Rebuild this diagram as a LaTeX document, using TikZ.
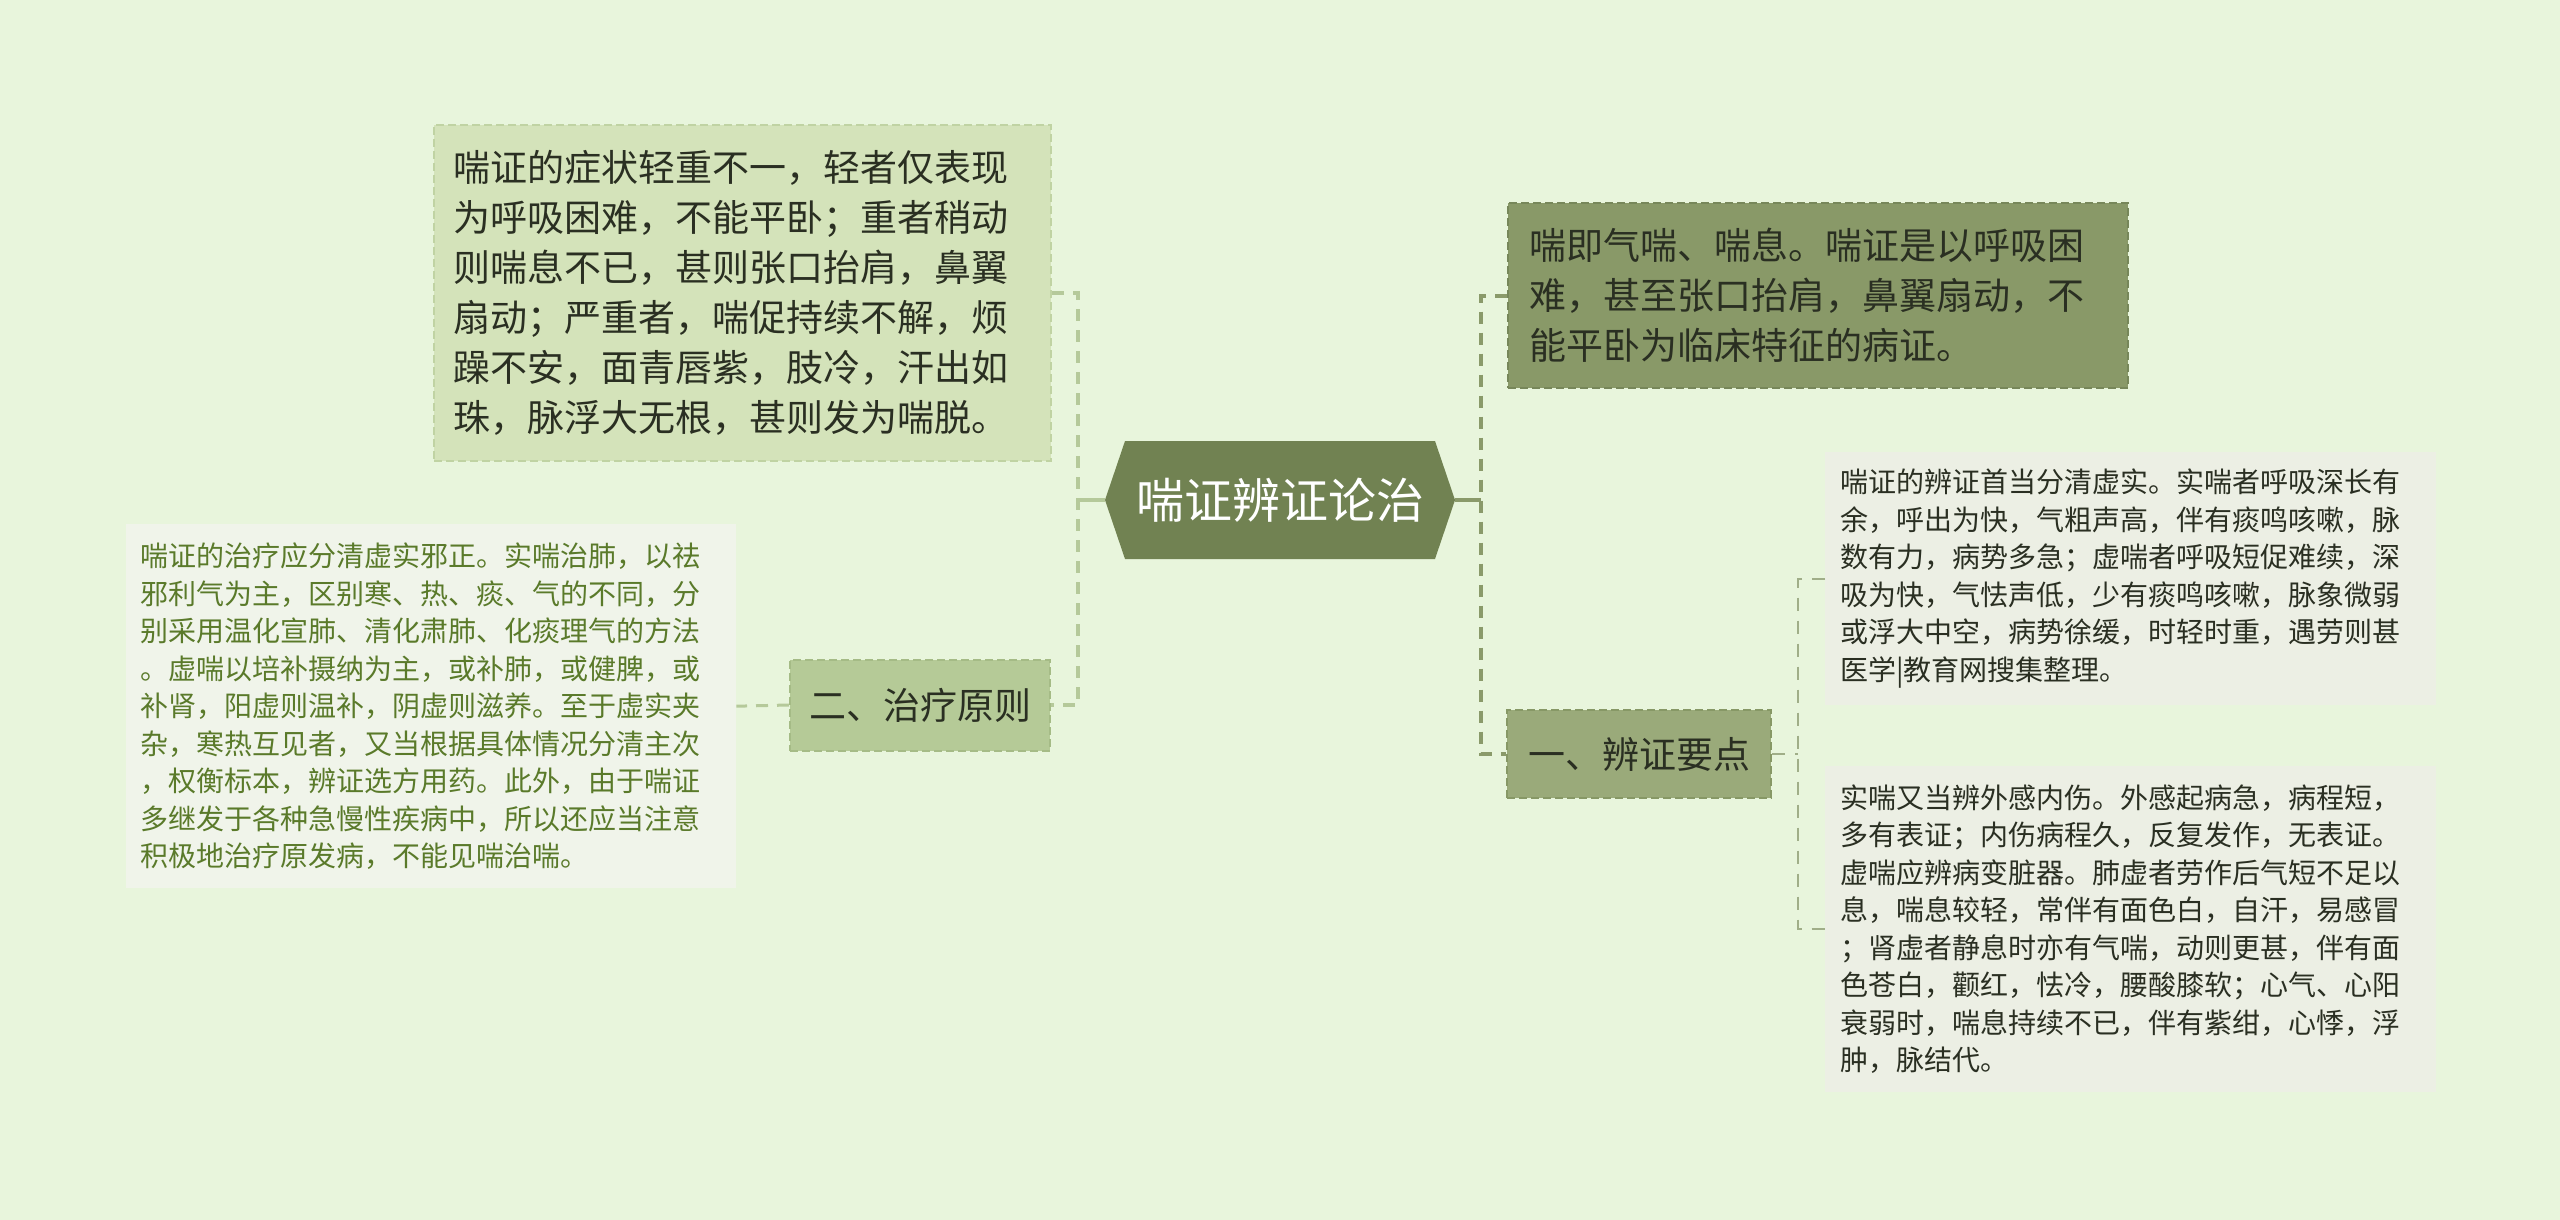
\documentclass[tikz,border=0pt]{standalone}
\usepackage{fontspec}
\newfontfamily\cjk{Noto Sans CJK SC}
\definecolor{bgc}{HTML}{E8F5DC}
\definecolor{rootfill}{HTML}{718252}
\definecolor{symfill}{HTML}{D4E3BA}
\definecolor{symline}{HTML}{C0D3A3}
\definecolor{treatfill}{HTML}{B5CA97}
\definecolor{treatline}{HTML}{A5BB86}
\definecolor{deffill}{HTML}{899968}
\definecolor{defline}{HTML}{77875A}
\definecolor{keyfill}{HTML}{9AAA7A}
\definecolor{keyline}{HTML}{879866}
\definecolor{detfill}{HTML}{ECEFE4}
\definecolor{ldetfill}{HTML}{F0F4EA}
\definecolor{ltext}{HTML}{5A7A2A}
\definecolor{dtext}{HTML}{2A2F22}
\definecolor{lconn}{HTML}{B5C99A}
\definecolor{rconn}{HTML}{8A9A6A}
\definecolor{kconn}{HTML}{A0AE88}
\begin{document}
\begin{tikzpicture}[x=1pt,y=-1pt,
  bigtxt/.style={font=\cjk\fontsize{37pt}{50pt}\selectfont},
  smalltxt/.style={font=\cjk\fontsize{28pt}{37.5pt}\selectfont},
  boxbase/.style={anchor=north west, inner ysep=0pt, align=left},
  dashborder/.style={line width=2pt, dash pattern=on 8pt off 4pt},
  rootbox/.style={minimum width=350pt, minimum height=118pt, inner sep=0pt,
    text=white, font=\cjk\fontsize{48pt}{48pt}\selectfont,
    path picture={\fill[rootfill] (path picture bounding box.west)
      -- ([xshift=20pt]path picture bounding box.north west)
      -- ([xshift=-20pt]path picture bounding box.north east)
      -- (path picture bounding box.east)
      -- ([xshift=-20pt]path picture bounding box.south east)
      -- ([xshift=20pt]path picture bounding box.south west) -- cycle;}},
  lsolid/.style={draw=lconn, line width=4pt},
  ldash/.style={draw=lconn, line width=4pt, dash pattern=on 12pt off 9pt},
  lthin/.style={draw=lconn, line width=3pt, dash pattern=on 12pt off 9pt},
  rsolid/.style={draw=rconn, line width=4pt},
  rdash/.style={draw=rconn, line width=4pt, dash pattern=on 12pt off 9pt},
  kdash/.style={draw=kconn, line width=2pt, dash pattern=on 13pt off 10pt}]

\fill[bgc] (0,0) rectangle (2560,1220);
\useasboundingbox (0,0) rectangle (2560,1220);

% root
\node[rootbox] (root) at (1280,500) {喘证辨证论治};

% left branch
\node[boxbase, bigtxt, fill=symfill, draw=symline, dashborder, text=dtext,
  minimum width=617pt, minimum height=336pt, inner xsep=19pt, text width=579pt]
  (sym) at (433,124) {喘证的症状轻重不一，轻者仅表现\\为呼吸困难，不能平卧；重者稍动\\则喘息不已，甚则张口抬肩，鼻翼\\扇动；严重者，喘促持续不解，烦\\躁不安，面青唇紫，肢冷，汗出如\\珠，脉浮大无根，甚则发为喘脱。};

\node[bigtxt, fill=treatfill, draw=treatline, dashborder, text=dtext,
  minimum width=260pt, minimum height=91pt, inner sep=0pt]
  (treat) at (920,705) {二、治疗原则};

\node[boxbase, smalltxt, fill=ldetfill, text=ltext,
  minimum width=610pt, minimum height=364pt, inner xsep=14pt, text width=582pt]
  (treatdet) at (126,524) {喘证的治疗应分清虚实邪正。实喘治肺，以祛\\邪利气为主，区别寒、热、痰、气的不同，分\\别采用温化宣肺、清化肃肺、化痰理气的方法\\。虚喘以培补摄纳为主，或补肺，或健脾，或\\补肾，阳虚则温补，阴虚则滋养。至于虚实夹\\杂，寒热互见者，又当根据具体情况分清主次\\，权衡标本，辨证选方用药。此外，由于喘证\\多继发于各种急慢性疾病中，所以还应当注意\\积极地治疗原发病，不能见喘治喘。};

% right branch
\node[boxbase, bigtxt, fill=deffill, draw=defline, dashborder, text=dtext,
  minimum width=620pt, minimum height=185pt, inner xsep=21pt, text width=578pt]
  (def) at (1507,202) {喘即气喘、喘息。喘证是以呼吸困\\难，甚至张口抬肩，鼻翼扇动，不\\能平卧为临床特征的病证。};

\node[bigtxt, fill=keyfill, draw=keyline, dashborder, text=dtext,
  minimum width=264pt, minimum height=88pt, inner sep=0pt]
  (key) at (1639,754) {一、辨证要点};

\node[boxbase, smalltxt, fill=detfill, text=dtext,
  minimum width=611pt, minimum height=253pt, inner xsep=15pt, text width=581pt]
  (d1) at (1825,452) {喘证的辨证首当分清虚实。实喘者呼吸深长有\\余，呼出为快，气粗声高，伴有痰鸣咳嗽，脉\\数有力，病势多急；虚喘者呼吸短促难续，深\\吸为快，气怯声低，少有痰鸣咳嗽，脉象微弱\\或浮大中空，病势徐缓，时轻时重，遇劳则甚\\医学|教育网搜集整理。};

\node[boxbase, smalltxt, fill=detfill, text=dtext,
  minimum width=611pt, minimum height=326pt, inner xsep=15pt, text width=581pt]
  (d2) at (1825,766) {实喘又当辨外感内伤。外感起病急，病程短，\\多有表证；内伤病程久，反复发作，无表证。\\虚喘应辨病变脏器。肺虚者劳作后气短不足以\\息，喘息较轻，常伴有面色白，自汗，易感冒\\；肾虚者静息时亦有气喘，动则更甚，伴有面\\色苍白，颧红，怯冷，腰酸膝软；心气、心阳\\衰弱时，喘息持续不已，伴有紫绀，心悸，浮\\肿，脉结代。};

% connectors
\coordinate (lj) at ([xshift=-27pt]root.west);
\coordinate (rj) at ([xshift=26pt]root.east);
\coordinate (kj) at ([xshift=26pt]key.east);

\draw[lsolid] (root.west) -- (lj);
\draw[ldash] (sym.east) -- (sym.east -| lj) -- (treat.east -| lj) -- (treat.east);
\draw[lthin] (treat.west) -- (treatdet.east);

\draw[rsolid] (root.east) -- (rj);
\draw[rdash] (def.west) -- (def.west -| rj) -- (key.west -| rj) -- (key.west);

\draw[kdash] (key.east) -- (kj);
\draw[kdash] (d1.west) -- (d1.west -| kj) -- (d2.west -| kj) -- (d2.west);
\end{tikzpicture}
\end{document}
